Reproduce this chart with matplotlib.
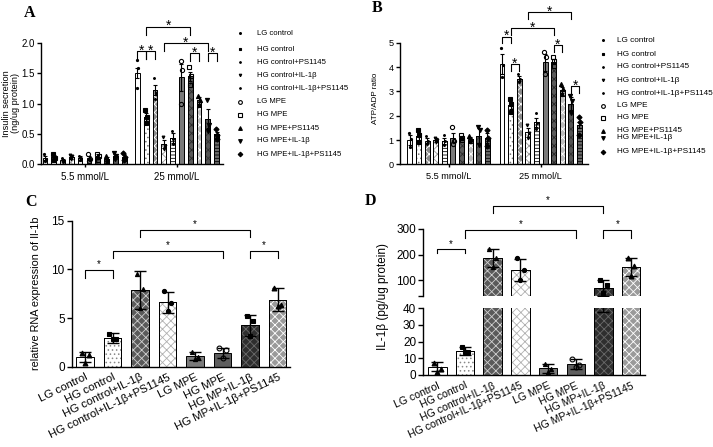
import matplotlib
matplotlib.use("Agg")
import matplotlib.pyplot as plt
from matplotlib.lines import Line2D
import numpy as np

plt.rcParams["font.family"] = ["Liberation Sans", "DejaVu Sans"]
plt.rcParams["hatch.linewidth"] = 0.6

# ---- data -------------------------------------------------------------
GROUPS_AB = ["LG control", "HG control", "HG control+PS1145", "HG control+IL-1β",
             "HG control+IL-1β+PS1145", "LG MPE", "HG MPE", "HG MPE+PS1145",
             "HG MPE+IL-1β", "HG MPE+IL-1β+PS1145"]
GLUCOSE = ["5.5 mmol/L", "25 mmol/L"]

# A: insulin secretion (ng/ug protein), [5.5 mmol/L, 25 mmol/L]
INS_MEAN = [[0.10, 0.11, 0.07, 0.12, 0.10, 0.10, 0.12, 0.09, 0.13, 0.12],
            [1.50, 0.78, 1.22, 0.33, 0.43, 1.43, 1.45, 1.05, 0.75, 0.49]]
INS_SEM = [[0.03, 0.04, 0.02, 0.03, 0.03, 0.04, 0.04, 0.03, 0.04, 0.04],
           [0.08, 0.07, 0.08, 0.07, 0.08, 0.22, 0.07, 0.05, 0.16, 0.04]]
INS_PTS = [[[0.16, 0.09, 0.05], [0.17, 0.10, 0.06], [0.10, 0.07, 0.04], [0.15, 0.13, 0.08],
            [0.14, 0.10, 0.06], [0.16, 0.09, 0.05], [0.17, 0.13, 0.06], [0.13, 0.09, 0.05],
            [0.18, 0.13, 0.08], [0.18, 0.12, 0.06]],
           [[1.72, 1.58, 1.25], [0.90, 0.78, 0.68], [1.42, 1.17, 1.08], [0.45, 0.30, 0.25],
            [0.55, 0.42, 0.33], [1.70, 1.55, 1.00], [1.60, 1.45, 1.30], [1.12, 1.05, 0.97],
            [1.05, 0.65, 0.55], [0.58, 0.48, 0.42]]]
INS_SIG = [(1, 6, 2.27), (3, 8, 2.00), (0, 1, 1.87), (1, 2, 1.87), (6, 7, 1.83), (8, 9, 1.83)]

# B: ATP/ADP ratio
ATP_MEAN = [[1.00, 1.15, 0.97, 1.00, 0.97, 1.10, 1.10, 1.03, 1.18, 1.08],
            [4.12, 2.42, 3.52, 1.32, 1.72, 4.20, 4.22, 3.07, 2.50, 1.62]]
ATP_SEM = [[0.20, 0.15, 0.10, 0.08, 0.12, 0.18, 0.06, 0.08, 0.30, 0.20],
           [0.42, 0.15, 0.10, 0.18, 0.20, 0.35, 0.10, 0.12, 0.25, 0.12]]
ATP_PTS = [[[1.30, 1.05, 0.70], [1.40, 1.20, 0.90], [1.15, 0.95, 0.85], [1.10, 1.00, 0.90],
            [1.20, 0.95, 0.80], [1.55, 0.95, 0.85], [1.20, 1.10, 1.00], [1.15, 1.05, 0.95],
            [1.55, 1.40, 0.80], [1.40, 1.10, 0.75]],
           [[4.80, 4.10, 3.60], [2.70, 2.50, 2.15], [3.70, 3.50, 3.40], [1.60, 1.30, 1.10],
            [2.10, 1.70, 1.45], [4.60, 4.40, 3.70], [4.40, 4.25, 4.05], [3.30, 3.10, 2.90],
            [2.80, 2.60, 2.10], [1.95, 1.75, 1.20]]]
ATP_SIG = [(3, 8, 6.25), (1, 6, 5.60), (0, 1, 5.25), (1, 2, 4.12), (6, 7, 4.91), (8, 9, 3.22)]

GROUPS_CD = ["LG control", "HG control", "HG control+IL-1β", "HG control+IL-1β+PS1145",
             "LG MPE", "HG MPE", "HG MP+IL-1β", "HG MP+IL-1β+PS1145"]

# C: relative RNA expression of Il-1b
RNA_MEAN = [1.00, 2.95, 7.85, 6.60, 1.10, 1.40, 4.25, 6.90]
RNA_SD = [0.55, 0.50, 1.95, 1.05, 0.45, 0.55, 1.05, 1.15]
RNA_PTS = [[1.40, 1.25, 0.40], [3.40, 2.80, 2.80], [9.50, 8.00, 6.00], [7.80, 6.50, 5.70],
           [1.50, 1.00, 0.75], [1.90, 1.70, 0.90], [5.20, 4.70, 3.20], [8.10, 6.30, 6.20]]
RNA_SIG = [(2, 6, 14.05), (1, 5, 11.9), (0, 1, 9.9), (6, 7, 11.9)]

# D: IL-1β (pg/ug protein)
IL_MEAN = [5.0, 14.5, 185.0, 140.0, 4.0, 6.5, 70.0, 152.0]
IL_SD = [2.8, 2.5, 35.0, 43.0, 2.6, 3.0, 32.0, 35.0]
IL_PTS = [[7.2, 3.5, 2.0], [17.0, 13.5, 13.5], [220.0, 185.0, 152.0], [185.0, 140.0, 100.0],
          [6.5, 3.5, 2.0], [9.5, 6.0, 5.0], [100.0, 80.0, 50.0], [188.0, 155.0, 118.0]]
IL_SIG = [(0, 1, 220.0), (1, 5, 296.0), (6, 7, 296.0), (2, 6, 391.0)]

# ---- styles -----------------------------------------------------------
# (face, hatch, hatch colour)
STY_AB = [("white", "", None), ("white", "....", "#777777"), ("#8a8a8a", "xxxx", "white"),
          ("white", "xxxx", "#9a9a9a"), ("white", "-----", "black"), ("#7a7a7a", "", None),
          ("#5a5a5a", "xxxx", "#2a2a2a"), ("#bdbdbd", "xxxx", "white"),
          ("#555555", "xxxx", "#333333"), ("#6a6a6a", "-----", "black")]
MRK_AB = [("o", 1.5, True), ("s", 2.2, True), ("o", 1.3, True), ("v", 2.0, True),
          ("o", 1.3, True), ("o", 3.0, False), ("s", 3.0, False), ("^", 3.0, True),
          ("v", 3.0, True), ("D", 2.6, True)]
STY_CD = [("white", "", None), ("white", "....", "#888888"), ("#5a5a5a", "xxxx", "#d0d0d0"),
          ("white", "xxxx", "#b0b0b0"), ("#7a7a7a", "", None), ("#5e5e5e", "", None),
          ("#2e2e2e", "xxxx", "#6a6a6a"), ("#9a9a9a", "xxxx", "white")]
MRK_CD = [("^", 3.5, True), ("s", 3.5, True), ("^", 3.0, True), ("o", 3.0, True),
          ("^", 3.0, True), ("o", 3.5, False), ("s", 3.5, True), ("^", 3.5, True)]
JIT = [-0.12, 0.12, 0.0]


def _bar(ax, x, h, sty, width):
    face, hatch, hcol = sty
    ax.bar(x, h, width, color=face, edgecolor="black", linewidth=0.7, zorder=2)
    if hatch:
        ax.bar(x, h, width, color="none", edgecolor=hcol, hatch=hatch, linewidth=0, zorder=2.1)
        ax.bar(x, h, width, color="none", edgecolor="black", linewidth=0.7, zorder=2.2)


def _points(ax, x, pts, mrk, jit, clip=False):
    m, s, filled = mrk
    ax.plot([x + j for j in jit], pts, ls="none", marker=m, ms=s,
            mfc="black" if filled else "none", mec="black", mew=0.8, zorder=4, clip_on=clip)


def _bracket(ax, x1, x2, y, leg, size, off):
    ax.plot([x1, x1, x2, x2], [y - leg, y, y, y - leg], color="black", lw=0.8,
            clip_on=False, zorder=5)
    ax.annotate("*", xy=((x1 + x2) / 2, y), xytext=(0, off), textcoords="offset points",
                ha="center", va="baseline", fontsize=size, annotation_clip=False)


def _style(ax):
    for s in ("top", "right"):
        ax.spines[s].set_visible(False)
    for s in ("left", "bottom"):
        ax.spines[s].set_linewidth(1.0)


def _grouped(ax, means, sems, pts, sig, offset, width, ylim, yticks, fmt, fs, leg):
    xs = [np.arange(10), offset + np.arange(10)]
    for g in range(2):
        for i in range(10):
            _bar(ax, xs[g][i], means[g][i], STY_AB[i], width)
            _points(ax, xs[g][i], pts[g][i], MRK_AB[i], [-0.1, 0.1, 0.0])
        ax.errorbar(xs[g], means[g], yerr=sems[g], fmt="none", ecolor="black",
                    elinewidth=0.8, capsize=1.3, capthick=0.8, zorder=3)
    for i, j, y in sig:
        _bracket(ax, xs[1][i], xs[1][j], y, leg, 10, -2.5)
    ax.set_ylim(*ylim)
    ax.set_yticks(yticks)
    ax.set_yticklabels([fmt % t for t in yticks], fontsize=fs)
    ax.set_xticks([xs[0].mean(), xs[1].mean()])
    ax.set_xticklabels(GLUCOSE, fontsize=fs)
    ax.tick_params(axis="y", length=3, width=1, pad=1.5)
    ax.tick_params(axis="x", length=2.5, width=1, pad=3)
    _style(ax)


def _legend(fig, x_m, x_t, ys, fs):
    for k, lab in enumerate(GROUPS_AB):
        y = 1 - ys[k] / 447
        m, s, filled = MRK_AB[k]
        fig.add_artist(Line2D([x_m / 713], [y], marker=m, ms=s * 0.9, ls="none",
                              mfc="black" if filled else "none", mec="black", mew=0.8))
        fig.text(x_t / 713, y, lab, fontsize=fs, va="center", ha="left")


fig = plt.figure(figsize=(7.13, 4.47), dpi=100)

# ---- A ----
axA = fig.add_axes([0.0575, 0.6331, 0.2553, 0.2707])
_grouped(axA, INS_MEAN, INS_SEM, INS_PTS, INS_SIG, 10.5, 0.53,
         (0, 2.0), [0, 0.5, 1.0, 1.5, 2.0], "%.1f", 7, 0.13)
axA.set_xlim(-0.45, 20.23)
fig.text(0.0155, 0.7685, "Insulin secretion\n(ng/ug protein)", rotation=90,
         ha="center", va="center", fontsize=6.6, linespacing=1.0)
_legend(fig, 240, 256.7, [33.3, 49.3, 62.3, 75.3, 88.3, 101.7, 114.7, 128, 141, 154], 5.6)

# ---- B ----
axB = fig.add_axes([0.561, 0.6324, 0.2637, 0.272])
_grouped(axB, ATP_MEAN, ATP_SEM, ATP_PTS, ATP_SIG, 10.7, 0.58,
         (0, 5), [0, 1, 2, 3, 4, 5], "%d", 6.6, 0.28)
axB.set_xlim(-1.16, 20.7)
fig.text(0.527, 0.7796, "ATP/ADP ratio", rotation=90, ha="center", va="center", fontsize=5.8)
_legend(fig, 602.7, 617, [40, 54.3, 66.7, 80, 93.3, 105.7, 117.7, 131, 137.7, 151.7], 5.9)

# ---- C ----
axC = fig.add_axes([0.1006, 0.1797, 0.3062, 0.3266])
xc = np.arange(8)
for i in range(8):
    _bar(axC, xc[i], RNA_MEAN[i], STY_CD[i], 0.64)
    _points(axC, xc[i], RNA_PTS[i], MRK_CD[i], JIT)
axC.errorbar(xc, RNA_MEAN, yerr=RNA_SD, fmt="none", ecolor="black", elinewidth=1.0,
             capsize=4, capthick=1.0, zorder=3)
for i, j, y in RNA_SIG:
    _bracket(axC, xc[i], xc[j], y, 0.75, 7, 2)
axC.set_ylim(0, 15)
axC.set_yticks([0, 5, 10, 15])
axC.set_xlim(-0.49, 7.45)
axC.set_xticks(xc)
axC.set_xticklabels(GROUPS_CD, rotation=26, ha="right", rotation_mode="anchor", fontsize=8.2)
axC.tick_params(axis="y", length=3.5, width=1, labelsize=8.5, pad=1.5)
axC.tick_params(axis="x", length=0, pad=4)
_style(axC)
fig.text(0.0505, 0.3445, "relative RNA expression of Il-1b", rotation=90,
         ha="center", va="center", fontsize=7.8)

# ---- D (broken axis) ----
axDl = fig.add_axes([0.5933, 0.1611, 0.3113, 0.1492])
axDu = fig.add_axes([0.5933, 0.3389, 0.3113, 0.1488])
xd = np.arange(8)
for ax in (axDl, axDu):
    for i in range(8):
        _bar(ax, xd[i], IL_MEAN[i], STY_CD[i], 0.67)
        _points(ax, xd[i], IL_PTS[i], MRK_CD[i], JIT, clip=True)
    ax.errorbar(xd, IL_MEAN, yerr=IL_SD, fmt="none", ecolor="black", elinewidth=1.0,
                capsize=4, capthick=1.0, zorder=3)
    ax.set_xlim(-0.52, 7.5)
    _style(ax)
axDl.set_ylim(0, 40)
axDl.set_yticks([0, 10, 20, 30, 40])
axDl.set_xticks(xd)
axDl.set_xticklabels(GROUPS_CD, rotation=24, ha="right", rotation_mode="anchor", fontsize=7.6)
axDl.tick_params(axis="y", length=3.5, width=1, labelsize=8.5, pad=1.5)
axDl.tick_params(axis="x", length=0, pad=4)
axDu.set_ylim(40, 300)
axDu.set_yticks([40, 100, 200, 300])
axDu.set_yticklabels(["", "100", "200", "300"])
axDu.tick_params(axis="y", length=3.5, width=1, labelsize=8.5, pad=1.5)
axDu.spines["bottom"].set_visible(False)
axDu.set_xticks([])
for i, j, y in IL_SIG:
    leg = 15 if y < 250 else 30
    _bracket(axDu, xd[i], xd[j], y, leg, 7, 2)
fig.text(0.5376, 0.3378, "IL-1β (pg/ug protein)", rotation=90, ha="center",
         va="center", fontsize=8.5)

for lab, x, y in (("A", 0.042, 0.972), ("B", 0.5295, 0.982), ("C", 0.0435, 0.549),
                  ("D", 0.520, 0.551)):
    fig.text(x, y, lab, fontsize=11.5, fontweight="bold", family="Liberation Serif",
             ha="center", va="center")

fig.savefig("out.png", dpi=100)
